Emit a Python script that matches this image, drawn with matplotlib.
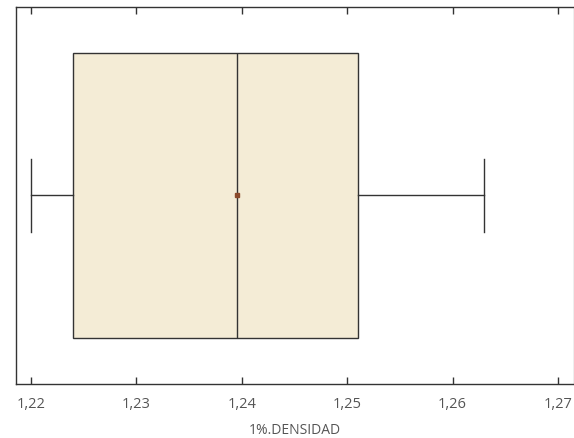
import matplotlib
matplotlib.use("Agg")
import matplotlib.pyplot as plt
from matplotlib.ticker import FuncFormatter

# box-plot summary of 1%.DENSIDAD
whisker_low = 1.2200
q1 = 1.2240
median = 1.2395
mean = 1.2395
q3 = 1.2510
whisker_high = 1.2630
x_ticks = [1.22, 1.23, 1.24, 1.25, 1.26, 1.27]
x_label = "1%.DENSIDAD"

stats = [{
    "whislo": whisker_low, "q1": q1, "med": median,
    "q3": q3, "whishi": whisker_high, "mean": mean, "fliers": [],
}]

plt.rcParams["font.family"] = ["Open Sans", "DejaVu Sans"]
fig = plt.figure(figsize=(5.74, 4.38), dpi=100)
ax = fig.add_axes([16 / 574, 54 / 438, 558 / 574, 377 / 438])

line_col = "#333333"
ax.bxp(stats, positions=[0], vert=False, widths=0.756, patch_artist=True,
       showmeans=True, showcaps=True,
       boxprops=dict(facecolor="#F4ECD6", edgecolor=line_col, linewidth=1),
       medianprops=dict(color=line_col, linewidth=1),
       whiskerprops=dict(color=line_col, linewidth=1),
       capprops=dict(color=line_col, linewidth=1),
       capwidths=0.194,
       meanprops=dict(marker="s", markersize=2.5, markerfacecolor="#8B4A2B",
                      markeredgecolor="#8B4A2B"))

ax.set_ylim(-0.5, 0.5)
ax.set_xlim(1.21858, 1.27152)
ax.set_yticks([])
ax.set_xticks(x_ticks)
ax.xaxis.set_major_formatter(FuncFormatter(lambda v, p: f"{v:.2f}".replace(".", ",")))
ax.tick_params(axis="x", direction="in", length=5, width=1, top=True,
               colors=line_col, labelsize=10.5, labelcolor="#555555", pad=9)
for s in ax.spines.values():
    s.set_color(line_col)
    s.set_linewidth(1)
ax.spines["right"].set_color("#aaaaaa")
ax.set_xlabel(x_label, fontsize=10, color="#555555", labelpad=8)

fig.savefig("out.png", dpi=100)
